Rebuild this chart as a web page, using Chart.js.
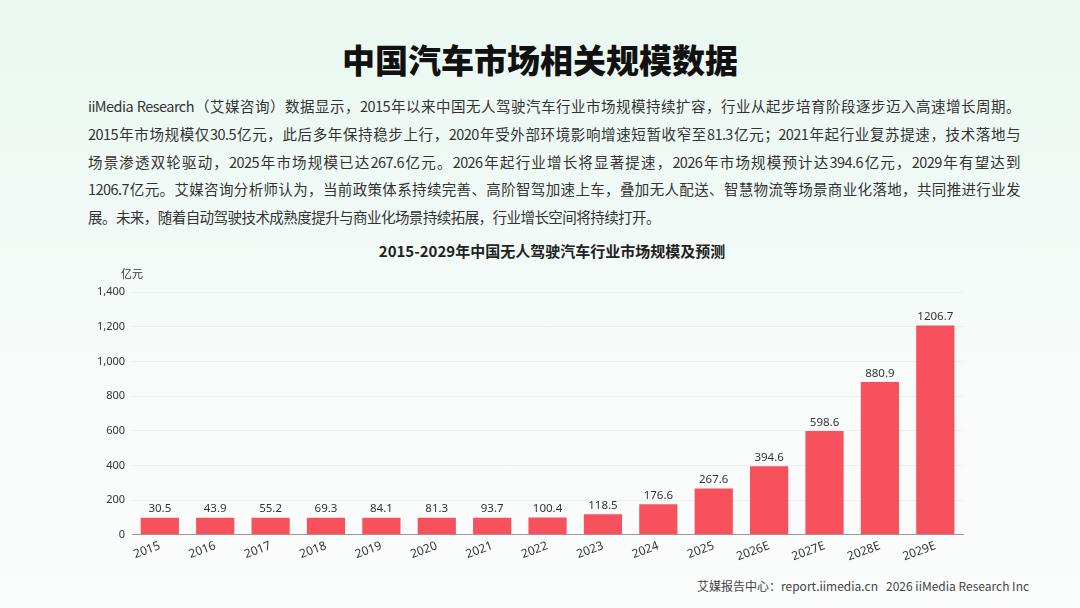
<!DOCTYPE html>
<html><head><meta charset="utf-8">
<script src="https://cdn.jsdelivr.net/npm/chart.js@4.4.1/dist/chart.umd.min.js"></script>
<style>
html,body{margin:0;padding:0;width:1080px;height:608px;overflow:hidden;}
body{background:linear-gradient(180deg,#eaf8f1 0%,#f1faf6 35%,#f7fbf9 60%,#fbfcfc 100%);font-family:"Noto Sans CJK SC","Noto Sans",sans-serif;position:relative;}
#title{position:absolute;top:35px;left:0;width:1080px;text-align:center;font-size:33px;font-weight:900;color:#111;}
#para{position:absolute;top:92px;left:88px;width:932px;font-size:14.5px;letter-spacing:-0.55px;color:#333;line-height:27.8px;}
#para div{text-align:justify;text-align-last:justify;white-space:nowrap;}
#para div.last{text-align-last:left;}
#ctitle{position:absolute;top:240px;left:352px;width:400px;text-align:center;font-size:15px;font-weight:bold;color:#222;white-space:nowrap;}
#wrap{position:absolute;left:90px;top:236px;width:924px;height:336px;}
#foot{position:absolute;top:577px;left:697px;font-size:12px;color:#444;white-space:nowrap;}
</style></head>
<body>
<div id="title">中国汽车市场相关规模数据</div>
<div id="para">
<div>iiMedia Research（艾媒咨询）数据显示，2015年以来中国无人驾驶汽车行业市场规模持续扩容，行业从起步培育阶段逐步迈入高速增长周期。</div>
<div>2015年市场规模仅30.5亿元，此后多年保持稳步上行，2020年受外部环境影响增速短暂收窄至81.3亿元；2021年起行业复苏提速，技术落地与</div>
<div>场景渗透双轮驱动，2025年市场规模已达267.6亿元。2026年起行业增长将显著提速，2026年市场规模预计达394.6亿元，2029年有望达到</div>
<div>1206.7亿元。艾媒咨询分析师认为，当前政策体系持续完善、高阶智驾加速上车，叠加无人配送、智慧物流等场景商业化落地，共同推进行业发</div>
<div class="last">展。未来，随着自动驾驶技术成熟度提升与商业化场景持续拓展，行业增长空间将持续打开。</div>
</div>
<div id="ctitle"></div>
<div id="wrap"><canvas id="c"></canvas></div>
<div id="foot">艾媒报告中心：report.iimedia.cn&nbsp;&nbsp;&nbsp;2026 iiMedia Research Inc</div>
<script>
const categories = ["2015","2016","2017","2018","2019","2020","2021","2022","2023","2024","2025","2026E","2027E","2028E","2029E"];
const marketSize = [30.5,43.9,55.2,69.3,84.1,81.3,93.7,100.4,118.5,176.6,267.6,394.6,598.6,880.9,1206.7];
const chartTitle = "2015-2029年中国无人驾驶汽车行业市场规模及预测";
const unitLabel = "亿元";
const yTicks = [0,200,400,600,800,1000,1200,1400];

document.getElementById('ctitle').textContent = chartTitle;

const valueLabels = {
  id:'valueLabels',
  afterDatasetsDraw(chart){
    const ctx = chart.ctx;
    const meta = chart.getDatasetMeta(0);
    ctx.save();
    ctx.font = '11.5px "Noto Sans","Noto Sans CJK SC",sans-serif';
    ctx.fillStyle = '#333';
    ctx.textAlign = 'center';
    ctx.textBaseline = 'bottom';
    meta.data.forEach((bar,i)=>{
      ctx.fillText(String(marketSize[i]), bar.x, bar.y - 3);
    });
    const ys = chart.scales.y;
    ctx.font = '11px "Noto Sans CJK SC",sans-serif';
    ctx.textAlign = 'center';
    ctx.textBaseline = 'middle';
    ctx.fillText(unitLabel, chart.chartArea.left, ys.top - 18);
    ctx.restore();
  }
};

new Chart(document.getElementById('c'), {
  type:'bar',
  data:{
    labels:categories,
    datasets:[{
      data:marketSize,
      backgroundColor:'#f6515d',
      borderWidth:0,
      minBarLength:17,
      barPercentage:0.69,
      categoryPercentage:1.0
    }]
  },
  options:{
    responsive:true,
    maintainAspectRatio:false,
    animation:false,
    locale:'en-US',
    layout:{padding:{left:0,right:51,top:56,bottom:4}},
    plugins:{
      legend:{display:false},
      tooltip:{enabled:false},
      title:{display:false}
    },
    scales:{
      x:{
        grid:{display:false,drawTicks:false},
        border:{display:true,color:'#9a9a9a',width:1},
        ticks:{color:'#333',font:{size:12,family:'"Noto Sans",sans-serif'},maxRotation:20,minRotation:20,padding:4,autoSkip:false}
      },
      y:{
        min:0,max:1400,
        afterBuildTicks(axis){axis.ticks = yTicks.map(v=>({value:v}));},
        grid:{color:'rgba(0,0,0,0.045)',drawTicks:false},
        border:{display:false},
        ticks:{color:'#333',font:{size:11,family:'"Noto Sans",sans-serif'},padding:7}
      }
    }
  },
  plugins:[valueLabels]
});
</script>
</body></html>
